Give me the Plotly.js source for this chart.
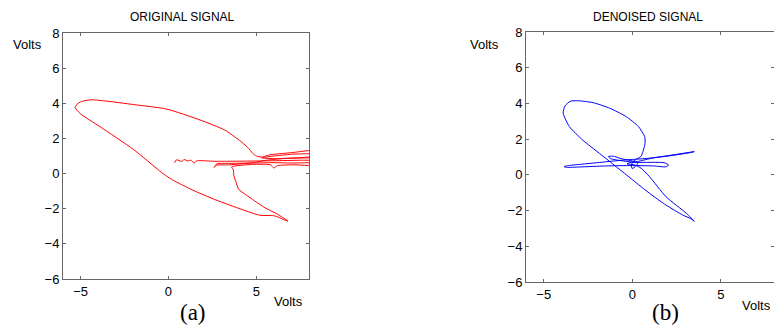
<!DOCTYPE html>
<html>
<head>
<meta charset="utf-8">
<script src="https://cdn.plot.ly/plotly-3.0.1.min.js"></script>
<style>html,body{margin:0;padding:0;background:#fff;}#chart{width:774px;height:325px;}</style>
</head>
<body>
<div id="chart"></div>
<script>
// ORIGINAL SIGNAL (phase trajectory, volts)
const origX = [0.35,0.45,0.6,0.75,0.9,1.1,1.3,1.45,1.6,1.8,2.2,2.6,3.2,4.5,6.0,7.5,8.6,
  8.6,7.5,6.5,5.5,4.8,3.5,2.7,2.6,2.75,3.5,4.8,6.0,7.0,8.6,
  8.6,7.2,6.2,6.0,5.8,4.8,3.9,3.6,3.7,3.72,3.85,4.0,4.4,4.9,5.5,6.1,6.5,6.8,
  6.5,6.3,6.0,5.2,4.2,2.7,1.4,0.25,-0.1,-0.5,-2.0,-3.9,-5.0,-5.3,-5.2,-4.95,-4.4,-3.5,-2.0,-0.1,1.8,3.2,4.03,4.5,4.8,5.0,5.4,6.0,7.0,8.6,
  8.6,7.9,7.0,5.74,5.3,6.0,7.0,8.6];
const origY = [0.62,0.78,0.75,0.68,0.8,0.72,0.76,0.6,0.72,0.74,0.72,0.7,0.7,0.71,0.73,0.76,0.8,
  0.95,0.9,0.85,0.75,0.62,0.5,0.47,0.35,0.55,0.58,0.6,0.62,0.6,0.58,
  0.45,0.5,0.45,0.32,0.5,0.52,0.45,0.38,0.2,-0.1,-0.5,-0.9,-1.2,-1.55,-1.95,-2.25,-2.5,-2.7,
  -2.6,-2.5,-2.4,-2.37,-2.05,-1.5,-0.95,-0.37,-0.15,0.15,1.38,2.67,3.4,3.75,3.95,4.1,4.2,4.12,3.93,3.67,3.05,2.48,1.9,1.5,1.15,1.0,0.93,1.0,1.1,1.2,
  1.35,1.3,1.19,1.06,0.9,0.85,0.88,0.9];

// DENOISED SIGNAL
const denX = [0.0,0.3,1.2,2.5,3.5,3.3,2.0,0.8,-0.2,-0.8,-1.6,-2.8,-3.6,-3.85,-3.7,-3.0,-1.5,0.0,1.2,1.9,2.05,1.8,0.8,0.2,-0.3,-1.2,-1.35,-1.1,-0.6,0.0,0.3,0.2,0.0,-0.05,0.05,0.5,0.6,0.72,0.7,0.35,-0.34,-1.27,-2.2,-3.06,-3.5,-3.8,-3.9,-3.55,-2.8,-1.85,-0.9,0.03,0.97,1.9,2.85,3.3,3.5,3.05,1.9,0.97,0.5,0.15,-0.3,0.0];
const denY = [0.7,0.75,0.95,1.15,1.3,1.25,1.05,0.92,0.85,0.8,0.72,0.6,0.52,0.46,0.42,0.44,0.5,0.52,0.5,0.45,0.55,0.68,0.7,0.7,0.75,0.9,1.02,1.05,0.9,0.78,0.65,0.5,0.35,0.55,0.75,1.05,1.3,1.75,2.14,2.7,3.26,3.73,4.04,4.15,4.12,3.86,3.45,2.7,1.95,1.2,0.45,-0.29,-1.03,-1.69,-2.25,-2.45,-2.6,-2.15,-1.22,-0.1,0.37,0.55,0.62,0.72];

const xTicks = [-5, 0, 5];
const yTicks = [-6, -4, -2, 0, 2, 4, 6, 8];
const titles = ['ORIGINAL SIGNAL', 'DENOISED SIGNAL'];
const panelLabels = ['(a)', '(b)'];
const axisLabel = 'Volts';

const font = 'Liberation Sans, Arial, sans-serif';
const px = (p) => p / 774;
const py = (p) => 1 - p / 325;

function xa(domain) {
  return {domain: domain, range: [-6, 8], tickvals: xTicks, ticks: 'inside', ticklen: 3,
    tickcolor: '#666', showline: true, linecolor: '#666', linewidth: 1, mirror: 'ticks',
    showgrid: false, zeroline: false, tickfont: {family: font, size: 13, color: '#000'}, fixedrange: true};
}
function ya(domain, anchor) {
  return {domain: domain, range: [-6, 8], tickvals: yTicks, ticks: 'inside', ticklen: 3,
    tickcolor: '#666', showline: true, linecolor: '#666', linewidth: 1, mirror: 'ticks',
    showgrid: false, zeroline: false, anchor: anchor, tickfont: {family: font, size: 13, color: '#000'}, fixedrange: true};
}

function ann(text, x, y, f) {
  return {text: text, x: px(x), y: py(y), xref: 'paper', yref: 'paper', xanchor: 'center', yanchor: 'middle', showarrow: false, font: f};
}
const sansT = {family: font, size: 12, color: '#000'};
const sans13 = {family: font, size: 13, color: '#000'};
const serif = {family: 'Liberation Serif, Times New Roman, serif', size: 23, color: '#000'};

const data = [
  {x: origX, y: origY, xaxis: 'x', yaxis: 'y', mode: 'lines', line: {color: '#ff0000', width: 1, shape: 'spline', smoothing: 0.6}, hoverinfo: 'skip'},
  {x: denX, y: denY, xaxis: 'x2', yaxis: 'y2', mode: 'lines', line: {color: '#0000ff', width: 1, shape: 'spline', smoothing: 0.6}, hoverinfo: 'skip'}
];

const layout = {
  width: 774, height: 325, margin: {l: 0, r: 0, t: 0, b: 0},
  paper_bgcolor: '#fff', plot_bgcolor: '#fff', showlegend: false,
  font: {family: font, size: 13, color: '#000'},
  xaxis: Object.assign(xa([px(63), px(309)]), {anchor: 'y'}),
  yaxis: ya([py(279), py(33)], 'x'),
  xaxis2: Object.assign(xa([px(526), 1]), {anchor: 'y2'}),
  yaxis2: ya([py(282), py(32)], 'x2'),
  annotations: [
    ann(titles[0], 182, 17, sansT),
    ann(titles[1], 648, 17, sansT),
    ann(axisLabel, 27, 45, sans13),
    ann(axisLabel, 484, 45, sans13),
    ann(axisLabel, 288, 301, sans13),
    ann(axisLabel, 756, 305, sans13),
    ann(panelLabels[0], 193, 312, serif),
    ann(panelLabels[1], 665, 312, serif)
  ]
};

Plotly.newPlot('chart', data, layout, {staticPlot: true, displayModeBar: false});
</script>
</body>
</html>
